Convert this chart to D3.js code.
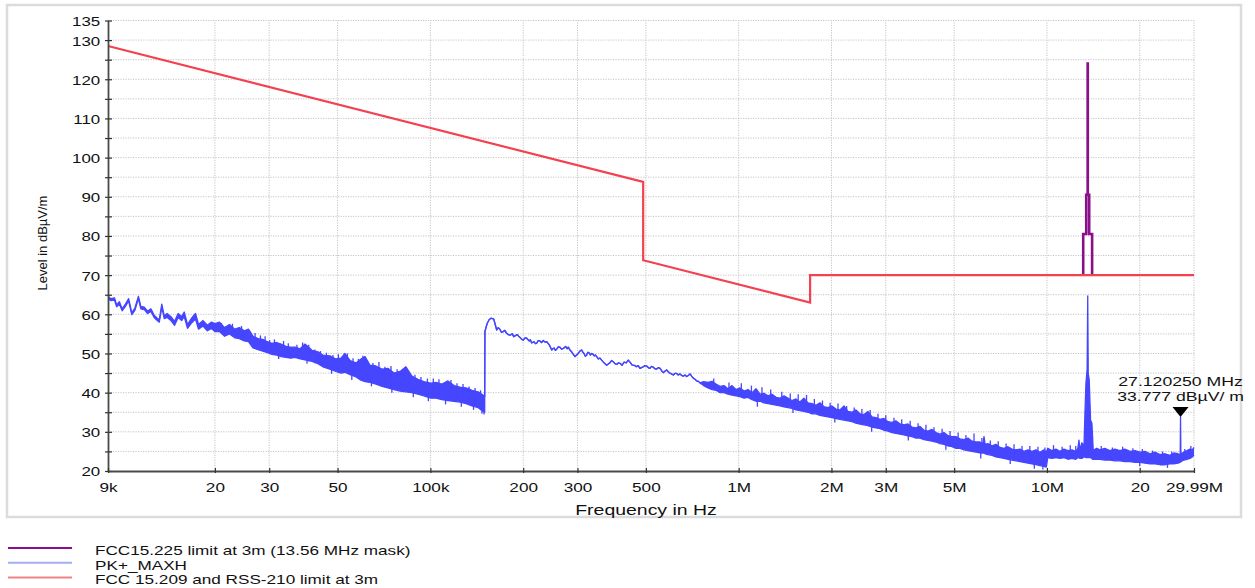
<!DOCTYPE html>
<html><head><meta charset="utf-8">
<script src="https://cdn.jsdelivr.net/npm/d3@7"></script>
<style>
body{margin:0;background:#fff}
svg{display:block}
text{font-family:"Liberation Sans",Arial,Helvetica,sans-serif;fill:#111}
</style>
</head><body>
<svg id="c" width="1255" height="588"></svg>
<script>
// ---------- axis ticks ----------
const xTickValues = [9e3,2e4,3e4,5e4,1e5,2e5,3e5,5e5,1e6,2e6,3e6,5e6,1e7,2e7,2.999e7];
const xTickLabels = ["9k","20","30","50","100k","200","300","500","1M","2M","3M","5M","10M","20","29.99M"];
const yTickValues = [20,25,30,35,40,45,50,55,60,65,70,75,80,85,90,95,100,105,110,115,120,125,130,135];
const yTickLabels = [20,30,40,50,60,70,80,90,100,110,120,130,135];

// ---------- FCC 15.209 limit (red) ----------
const limitMHz   = [0.009, 0.49, 0.49, 1.705, 1.705, 29.99];
const limitLevel = [128.5, 93.8, 73.8, 63.0, 70.0, 70.0];

// ---------- FCC 15.225 mask (purple) ----------
const maskMHz   = [13.11,13.11,13.41,13.41,13.553,13.553,13.567,13.567,13.71,13.71,14.01,14.01];
const maskLevel = [70,80.5,80.5,90.5,90.5,124,124,90.5,90.5,80.5,80.5,70];

// ---------- PK+_MAXH trace, part A (9 kHz - 150 kHz): upper / lower edge ----------
const traceA_kHz = [9.0,9.2,9.45,9.6,9.8,10.0,10.25,10.5,10.75,11.0,11.3,11.5,11.8,12.1,12.4,12.7,13.0,13.2,13.45,13.7,
  14.0,14.4,14.8,15.2,15.6,15.9,16.3,16.8,17.3,17.7,18.3,18.9,19.5,20.0,20.7,21.5,22.3,23.2,24.0,24.9,
  25.7,26.6,27.6,28.6,29.6,30.6,31.7,32.8,34.0,35.2,36.4,37.8,39.2,41.3,43.2,44.8,47.2,49.4,51.3,52.8,
  54.9,57.4,59.5,61.4,63.7,66.6,69.7,72.8,76.2,79.7,83.3,87.1,91.1,95.3,100.3,104.2,109,114,119.3,124.7,
  130.5,136.5,142.7,148.1,150.0];
const traceA_hi = [64.6,64.0,64.2,62.4,63.2,61.4,62.6,64.0,60.4,61.6,64.6,62.0,61.8,60.8,61.4,59.8,59.0,58.6,62.6,59.6,
  60.2,59.4,58.2,60.2,59.4,60.6,57.4,59.0,60.2,57.4,58.4,57.2,58.0,57.6,58.0,56.6,57.4,56.2,56.6,55.8,
  56.2,54.4,53.8,53.6,53.0,52.6,52.8,52.4,51.8,51.6,51.6,51.2,52.4,50.8,50.4,49.6,49.4,48.6,48.8,50.0,
  48.2,47.6,48.6,49.2,47.0,46.8,46.0,46.2,45.0,45.4,46.6,44.2,43.4,42.8,42.4,42.6,42.2,43.0,41.8,41.4,
  41.2,40.6,40.2,39.4,39.0];
const traceA_lo = [64.0,63.5,63.6,61.9,62.6,60.9,62.0,63.4,59.9,61.0,64.0,61.4,61.2,60.2,60.7,59.2,58.4,58.0,61.8,58.9,
  59.2,58.4,57.2,59.2,58.4,59.4,56.4,57.8,58.8,56.2,57.0,55.8,56.4,55.6,55.6,54.4,55.0,54.0,53.8,53.2,
  53.0,51.4,51.0,50.6,50.2,49.8,49.6,49.2,49.0,48.8,49.0,48.6,48.4,48.0,47.4,46.6,46.0,45.4,45.0,45.2,
  44.6,44.0,43.2,42.8,42.6,42.2,41.6,41.2,40.8,40.4,40.2,40.0,39.6,39.2,38.6,38.6,38.2,38.0,37.8,37.6,
  37.2,36.6,36.2,35.2,35.0];

// ---------- part B (150 kHz - 750 kHz): single thin trace ----------
const traceB_kHz = [150.3,152.7,155.0,157.3,160.5,164.1,166.0,168.0,170.0,172.3,174.5,176.5,179.0,181.2,184.5,186.3,188.1,191.5,193.4,195.3,
  197.8,200.2,202.7,205.3,209.0,211.0,213.1,217.0,219.0,221.2,223.8,226.5,229.4,232.4,235.4,238.4,243.0,245.2,247.5,249.7,
  252.0,254.4,256.9,260.0,263.0,266.4,269.9,275.0,277.5,280.1,283.6,287.3,290.9,294.5,298.1,301.8,305.5,309.6,312.3,315.0,
  318.1,321.3,324.1,327.0,330.2,333.5,336.7,340.0,343.1,346.2,350.5,354.9,359.4,364.0,368.5,373.1,377.5,382.0,386.9,391.9,
  396.9,402.0,407.0,412.0,418.5,425.0,431.6,438.4,446.0,450.5,455.1,460.5,466.0,472.1,478.4,484.1,490.0,496.4,503.0,509.0,
  515.0,521.7,528.5,535.2,542.0,548.8,555.7,562.5,569.5,576.8,584.1,591.0,598.0,605.8,613.6,621.2,629.0,637.0,645.0,653.0,
  661.0,669.5,678.2,686.7,695.2,703.8,712.4,721.5,730.7,739.8,749.0];
const traceB_level = [55.6,57.6,58.6,59.0,58.8,56.0,56.6,56.2,55.4,55.6,55.9,55.2,54.8,54.7,55.0,54.3,54.5,54.8,54.4,54.1,
  53.6,53.4,54.0,53.9,53.2,53.5,52.7,53.0,52.5,52.6,53.3,53.2,52.8,53.3,52.9,53.0,52.2,51.6,50.9,51.2,
  51.4,50.8,51.1,51.7,51.6,51.1,51.3,51.8,51.2,51.6,50.9,50.4,49.8,49.2,49.6,50.0,50.6,50.9,50.3,50.0,
  49.3,49.6,50.3,50.2,49.6,50.0,49.8,49.4,49.6,49.2,48.6,48.8,48.3,47.8,47.4,47.0,47.3,47.6,48.2,47.9,
  47.4,47.2,47.6,47.5,47.0,47.8,47.6,48.3,47.6,47.1,47.0,46.9,46.6,46.9,46.2,46.4,46.6,46.9,46.8,46.4,
  46.2,46.7,46.5,46.1,46.0,46.4,46.2,45.6,45.1,45.5,45.8,45.3,45.0,44.8,44.5,44.9,44.9,44.5,44.8,44.4,
  44.2,44.5,44.1,44.4,44.8,44.2,43.7,43.4,43.0,42.9,42.5];

// ---------- part C (750 kHz - 29.99 MHz): upper / lower edge ----------
const traceC_MHz = [0.770,0.795,0.820,0.844,0.870,0.896,0.923,0.951,0.980,1.010,1.041,1.072,1.105,1.138,1.173,1.208,1.245,1.283,1.322,1.362,
  1.403,1.445,1.489,1.534,1.580,1.628,1.678,1.729,1.781,1.835,1.891,1.948,2.007,2.068,2.131,2.196,2.262,2.331,2.401,2.474,
  2.549,2.627,2.706,2.788,2.873,2.960,3.050,3.142,3.237,3.336,3.437,3.541,3.649,3.760,3.874,3.991,4.112,4.237,4.366,4.498,
  4.634,4.775,4.920,5.069,5.223,5.381,5.545,5.712,5.886,6.064,6.200,6.250,6.300,6.437,6.633,6.834,7.041,7.255,7.475,7.701,
  7.935,8.176,8.423,8.677,8.940,9.212,9.490,9.779,9.950,10.06,10.37,10.69,11.02,11.35,11.70,12.05,12.40,12.60,12.70,12.79,
  12.98,13.08,13.18,13.28,13.38,13.50,13.56,13.61,13.71,13.85,13.99,14.06,14.13,14.50,14.86,15.40,16.00,16.60,17.25,17.90,
  18.60,19.30,20.03,20.80,21.59,22.40,23.26,24.15,25.06,25.80,26.60,27.05,27.12,27.19,27.82,28.45,29.10,29.60,29.99];
const traceC_hi = [42.8,42.6,42.9,42.2,41.6,41.8,41.0,41.8,40.8,41.2,40.4,40.8,40.0,41.0,39.6,39.8,39.2,39.6,38.8,38.6,
  39.2,38.6,38.0,38.4,37.6,38.6,37.4,37.2,36.8,37.4,36.4,36.2,36.6,35.8,35.6,36.6,35.2,35.0,35.6,34.6,
  34.4,35.2,33.8,33.6,33.2,33.4,32.6,32.4,32.8,32.0,31.8,32.0,31.2,31.0,31.4,30.4,30.2,30.6,29.8,29.4,
  29.8,29.0,28.8,28.8,28.2,28.0,28.4,27.6,27.4,27.4,27.0,28.8,26.8,27.0,26.4,26.8,26.0,25.8,26.2,25.6,
  25.4,25.6,25.0,25.4,25.0,25.4,24.8,25.4,24.8,25.8,25.2,25.6,25.0,25.6,25.2,25.4,25.0,25.8,27.9,25.4,
  27.2,26.8,25.6,34.7,42.4,46.0,64.7,45.0,43.3,33.0,32.2,28.7,25.3,25.8,25.4,25.8,25.2,25.6,25.2,25.6,
  25.0,25.2,24.8,25.0,24.4,24.8,24.2,24.4,24.0,24.6,24.4,24.2,33.8,24.4,24.8,25.2,25.6,25.4,26.0];
const traceC_lo = [41.8,41.2,40.8,40.6,40.0,40.0,39.6,39.4,39.2,39.0,38.6,38.8,38.2,37.8,37.8,37.4,37.2,37.0,36.8,36.6,
  36.4,36.2,36.0,35.6,35.4,35.2,35.0,34.6,34.6,34.2,34.0,33.8,33.6,33.4,33.2,33.0,32.8,32.6,32.2,32.0,
  31.8,31.6,31.2,31.0,30.8,30.4,30.2,29.8,29.6,29.4,29.2,29.0,28.8,28.4,28.4,28.0,27.8,27.6,27.4,27.0,
  26.8,26.4,26.2,25.8,25.8,25.4,25.2,25.0,24.8,24.6,24.6,24.6,24.4,24.2,24.0,23.6,23.4,23.2,23.0,22.8,
  22.6,22.4,22.2,22.0,21.8,21.6,21.4,21.2,21.0,23.4,23.2,23.4,23.2,23.4,23.0,23.2,23.0,23.4,23.4,23.2,
  23.2,23.4,23.6,23.6,23.4,23.4,23.4,23.4,23.4,23.4,23.2,23.0,23.0,23.0,23.0,22.8,22.8,22.6,22.6,22.4,
  22.4,22.2,22.2,22.0,21.8,21.8,21.6,21.6,21.8,21.8,22.0,22.2,23.0,22.4,22.8,23.0,23.2,23.6,24.0];

// ---------- noise spikes on the trace (top / bottom of each short excursion) ----------
const spikeA_kHz = [21.0,22.8,24.4,26.0,27.0,28.1,29.1,30.1,31.2,32.2,33.4,34.6,36.9,38.5,39.8,40.3,42.2,44.0,46.0,47.8,
  48.3,50.3,52.0,53.8,55.6,56.1,58.4,60.4,62.5,64.4,65.1,68.1,71.2,74.5,75.0,78.0,81.5,85.2,88.0,89.1,
  93.2,97.8,98.5,102.2,106.6,111.5,112.0,116.6,122.0,126.0,127.6,133.5,138.0,139.6,145.4,147.0,149.3];
const spikeA_top = [57.8,57.6,57.0,55.6,55.2,54.6,54.4,53.4,53.6,50.0,53.2,52.6,52.2,52.8,48.8,52.2,51.0,50.6,50.2,46.6,
  49.6,49.8,49.0,50.0,45.0,48.8,48.6,49.4,48.2,43.2,47.6,47.8,46.6,46.8,41.6,46.0,45.8,45.4,40.6,44.6,
  44.0,43.6,39.6,43.6,43.4,42.6,38.6,43.2,42.4,38.0,42.2,41.6,37.0,41.2,40.6,36.0,35.4];
const spikeA_bottom = [55.5,55.0,54.0,53.0,52.0,51.5,51.0,50.5,50.0,48.6,49.5,49.0,49.0,48.5,47.4,48.0,47.5,47.0,46.5,44.8,
  46.0,45.5,45.0,45.0,43.2,44.5,44.0,43.5,43.0,41.6,42.6,42.2,41.8,41.5,40.0,41.0,40.8,40.5,38.8,40.2,
  39.8,39.4,37.8,39.0,38.8,38.6,37.0,38.2,38.0,36.4,37.8,37.4,35.6,37.0,36.5,34.6,34.4];
const spikeC_MHz = [0.83,0.93,1.02,1.10,1.15,1.19,1.27,1.38,1.47,1.50,1.56,1.66,1.76,1.87,1.98,2.05,2.10,2.24,2.37,2.51,
  2.67,2.70,2.83,3.00,3.19,3.38,3.55,3.60,3.82,4.05,4.30,4.57,4.70,4.85,5.15,5.46,5.80,6.10,6.15,6.55,
  6.95,7.37,7.60,7.82,8.30,8.80,9.10,9.35,9.70,9.85,10.5,11.2,11.9,12.4,15.0,16.3,17.6,19.0,20.0,20.4,
  22.0,23.7,24.6,25.4,28.0,29.3];
const spikeC_top = [43.6,42.6,42.4,41.8,37.6,41.4,40.8,40.2,39.8,35.8,39.6,39.4,38.4,38.0,37.4,33.4,37.2,36.6,36.2,35.8,
  35.6,31.2,34.6,34.2,33.6,33.2,29.0,32.8,32.2,31.8,31.2,30.8,26.6,30.2,29.8,29.2,29.6,24.6,28.4,27.8,
  27.6,27.0,23.0,26.8,26.4,26.4,22.0,26.2,21.4,26.0,26.6,26.2,26.6,26.4,26.4,26.0,26.2,25.8,22.4,25.6,
  25.2,25.0,21.8,25.0,25.6,26.4];
const spikeC_bottom = [41.0,40.0,39.5,39.0,36.4,38.5,38.0,37.5,37.0,34.8,36.5,36.0,35.5,35.0,34.5,32.4,34.0,33.5,33.0,32.5,
  32.0,30.0,31.5,31.0,30.5,30.0,27.8,29.5,29.0,28.5,28.0,27.5,25.4,27.0,26.5,26.0,25.5,23.2,25.2,24.8,
  24.2,23.8,21.8,23.5,23.0,22.8,20.6,22.5,20.4,22.2,24.0,24.0,24.0,24.0,23.6,23.4,23.2,23.0,21.2,22.8,
  22.4,22.2,20.8,22.4,23.2,23.6];

// ---------- marker ----------
const markerMHz = 27.120250;
const markerLevel = 33.777;
const markerLines = ["27.120250 MHz", "33.777 dBµV/ m"];

// ---------- legend ----------
const legendNames  = ["FCC15.225 limit at 3m (13.56 MHz mask)", "PK+_MAXH", "FCC 15.209 and RSS-210 limit at 3m"];
const legendColors = ["#8a0f8a", "#a8acf4", "#f08585"];

// ================= drawing =================
const svg = d3.select("#c");
const x = d3.scaleLog().domain([9e3, 2.999e7]).range([108, 1194]);
const y = d3.scaleLinear().domain([20, 135]).range([471, 20.5]);
const FONT = '"Liberation Sans",Arial,Helvetica,sans-serif';

// outer frame
svg.append("rect").attr("x",7).attr("y",5).attr("width",1234).attr("height",512)
  .attr("fill","none").attr("stroke","#dcdcdc").attr("stroke-width",2.5);

// grid
const grid = svg.append("g").attr("stroke","#c4c4c4").attr("stroke-width",1).attr("stroke-dasharray","1.2,1.3");
grid.selectAll("line.h").data(yTickValues.filter(d => d > 20)).join("line")
  .attr("x1", x(9e3)).attr("x2", x(2.999e7)).attr("y1", d => y(d)).attr("y2", d => y(d));
grid.selectAll("line.v").data(xTickValues.filter(d => d > 9e3)).join("line")
  .attr("y1", y(20)).attr("y2", y(135)).attr("x1", d => x(d)).attr("x2", d => x(d));

// purple mask
const maskData = maskMHz.map((f,i) => [f*1e6, maskLevel[i]]);
svg.append("path").datum(maskData)
  .attr("d", d3.line().x(d => x(d[0])).y(d => y(d[1])))
  .attr("fill","none").attr("stroke","#8a0f8a").attr("stroke-width",2.6).attr("stroke-linejoin","miter");

// red limit
const limitData = limitMHz.map((f,i) => [f*1e6, limitLevel[i]]);
svg.append("path").datum(limitData)
  .attr("d", d3.line().x(d => x(d[0])).y(d => y(d[1])))
  .attr("fill","none").attr("stroke","#f4414f").attr("stroke-width",2.2);

// blue trace
const trace = [];
traceA_kHz.forEach((f,i) => trace.push({f: f*1e3, hi: traceA_hi[i], lo: traceA_lo[i]}));
traceB_kHz.forEach((f,i) => trace.push({f: f*1e3, hi: traceB_level[i], lo: traceB_level[i]}));
traceC_MHz.forEach((f,i) => trace.push({f: f*1e6, hi: traceC_hi[i], lo: traceC_lo[i]}));
const blue = "#4646ff";
svg.append("path").datum(trace)
  .attr("d", d3.area().x(d => x(d.f)).y0(d => y(d.lo)).y1(d => y(d.hi)))
  .attr("fill", blue).attr("stroke","none");
svg.append("path").datum(trace)
  .attr("d", d3.line().x(d => x(d.f)).y(d => y(d.hi)))
  .attr("fill","none").attr("stroke",blue).attr("stroke-width",1.3).attr("stroke-linejoin","round");
svg.append("path").datum(trace)
  .attr("d", d3.line().x(d => x(d.f)).y(d => y(d.lo)))
  .attr("fill","none").attr("stroke",blue).attr("stroke-width",1.3).attr("stroke-linejoin","round");

const spikes = [];
spikeA_kHz.forEach((f,i) => spikes.push({f: f*1e3, t: spikeA_top[i], b: spikeA_bottom[i]}));
spikeC_MHz.forEach((f,i) => spikes.push({f: f*1e6, t: spikeC_top[i], b: spikeC_bottom[i]}));
svg.append("g").attr("stroke", blue).attr("stroke-width",1.3)
  .selectAll("line").data(spikes).join("line")
  .attr("x1", d => x(d.f)).attr("x2", d => x(d.f))
  .attr("y1", d => y(d.b)).attr("y2", d => y(d.t));

// axes
const yAxis = d3.axisLeft(y).tickValues(yTickValues).tickSizeOuter(0)
  .tickFormat(d => yTickLabels.includes(d) ? d : "");
const gy = svg.append("g").attr("transform","translate(108,0)").call(yAxis)
  .attr("font-family", FONT).attr("font-size", 13);
gy.select(".domain").attr("stroke","#4a4a4a").attr("stroke-width",1.8);
gy.selectAll(".tick line").attr("x1",4).attr("x2",-3).attr("stroke","#333").attr("stroke-width",1.2);
gy.selectAll(".tick text").attr("x",-6).attr("dy","0.38em").attr("transform","scale(1.3,1)").attr("fill","#111");

const xAxis = d3.axisBottom(x).tickValues(xTickValues).tickSizeOuter(0)
  .tickFormat((d,i) => xTickLabels[i]);
const gx = svg.append("g").attr("transform","translate(0,471)").call(xAxis)
  .attr("font-family", FONT).attr("font-size", 13);
gx.select(".domain").attr("stroke","#4a4a4a").attr("stroke-width",1.8);
gx.selectAll(".tick line").attr("y1",-3).attr("y2",2).attr("stroke","#333").attr("stroke-width",1.2);
gx.selectAll(".tick text").attr("y",21).attr("dy","0").attr("transform","scale(1.32,1)").attr("fill","#111");

// stretched text helper
function label(str, tx, ty, size, sx, anchor) {
  return svg.append("text")
    .attr("transform", `translate(${tx},${ty}) scale(${sx},1)`)
    .attr("text-anchor", anchor).style("font-size", size + "px").text(str);
}

// axis titles
label("Frequency in Hz", 646, 515, 14, 1.39, "middle");
svg.append("text").attr("transform","translate(47,243) rotate(-90)")
  .attr("text-anchor","middle").style("font-size","13px").text("Level in dBµV/m");

// marker
const mx = x(markerMHz*1e6), my = y(markerLevel);
svg.append("path")
  .attr("d", `M${mx-8},${my-10}L${mx+8},${my-10}L${mx},${my}Z`)
  .attr("fill","#000");
markerLines.forEach((t,i) => label(t, mx, 386 + i*15, 12, 1.47, "middle"));

// legend
legendNames.forEach((name,i) => {
  const ly = 548 + i*14.7;
  svg.append("line").attr("x1",8).attr("x2",72).attr("y1",ly).attr("y2",ly)
    .attr("stroke", legendColors[i]).attr("stroke-width",2);
  label(name, 95, ly + 7, 12, 1.43, "start");
});
</script>
</body></html>
